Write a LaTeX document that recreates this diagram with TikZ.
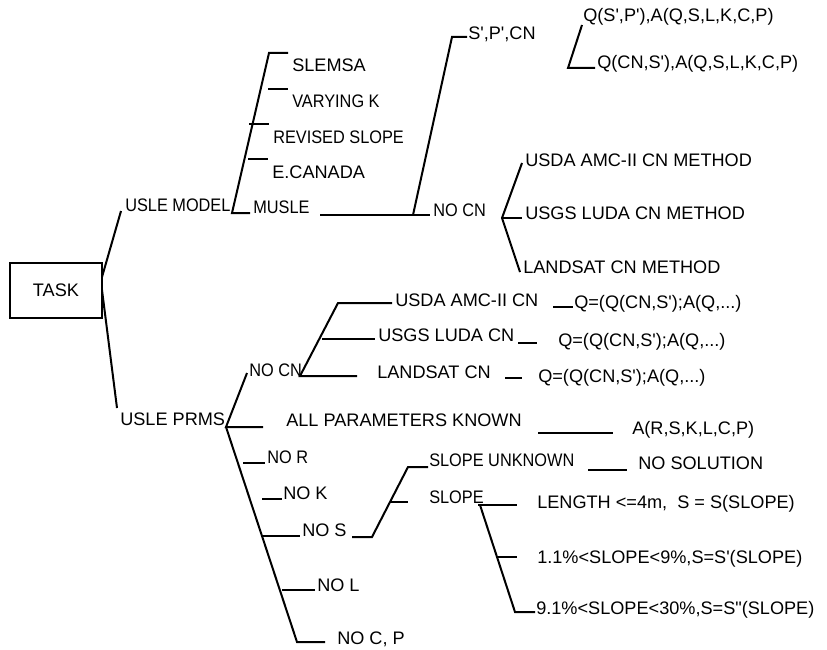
\documentclass[tikz,border=0pt]{standalone}
\usepackage{fontspec}
\setmainfont{Liberation Sans}
\newfontfamily\tightfont[FakeStretch=0.9]{Liberation Sans}
\begin{document}
\begin{tikzpicture}[x=0.75pt,y=-0.75pt,
  lbl/.style={anchor=base west, inner sep=0pt, font=\fontsize{13.6}{16}\selectfont},
  tlbl/.style={anchor=base west, inner sep=0pt, font=\fontsize{13.6}{16}\tightfont},
  br/.style={line width=1.5pt, line join=miter, line cap=butt},
  tk/.style={line width=1.1pt}]
\useasboundingbox (0,0) rectangle (827,649);

% root
\node[draw, line width=1.4pt, minimum width=69pt, minimum height=41pt, inner sep=0pt,
      font=\fontsize{13.6}{16}\selectfont] (task) at (56,290.5) {TASK};

% labels
\node[tlbl] (model) at (125,211.5) {USLE MODEL};
\node[lbl]  (prms)  at (120,425.5) {USLE PRMS};

\node[lbl]  (slemsa) at (292,71.5)  {SLEMSA};
\node[tlbl] (vary)   at (292,107.5) {VARYING K};
\node[tlbl] (revs)   at (273,143.5) {REVISED SLOPE};
\node[lbl]  (ecan)   at (272,178.5) {E.CANADA};
\node[tlbl] (musle)  at (253,213.5) {MUSLE};

\node[lbl]  (spcn)   at (468,39.5)  {S\textquotesingle,P\textquotesingle,CN};
\node[tlbl] (nocnA)  at (433,216.5) {NO CN};
\node[lbl]  (qsp)    at (583,21.5)  {Q(S\textquotesingle,P\textquotesingle),A(Q,S,L,K,C,P)};
\node[lbl]  (qcns)   at (597,68.5)  {Q(CN,S\textquotesingle),A(Q,S,L,K,C,P)};
\node[lbl]  (usdaM)  at (525,166.5) {USDA AMC-II CN METHOD};
\node[lbl]  (usgsM)  at (525,219.5) {USGS LUDA CN METHOD};
\node[lbl]  (landM)  at (523,273.5) {LANDSAT CN METHOD};

\node[tlbl] (nocnB)  at (249,376.5) {NO CN};
\node[lbl]  (usda)   at (395,306.5) {USDA AMC-II CN};
\node[lbl]  (usgs)   at (378,341.5) {USGS LUDA CN};
\node[lbl]  (land)   at (377,378.5) {LANDSAT CN};
\node[lbl]  (qa)     at (574,308.5) {Q=(Q(CN,S\textquotesingle);A(Q,...)};
\node[lbl]  (qb)     at (558,346.5) {Q=(Q(CN,S\textquotesingle);A(Q,...)};
\node[lbl]  (qc)     at (538,382.5) {Q=(Q(CN,S\textquotesingle);A(Q,...)};
\node[lbl]  (allp)   at (286,426.5) {ALL PARAMETERS KNOWN};
\node[lbl]  (arsk)   at (632,434.5) {A(R,S,K,L,C,P)};

\node[tlbl] (nor)    at (267,463.5) {NO R};
\node[lbl]  (nok)    at (283,499.5) {NO K};
\node[lbl]  (nos)    at (302,536.5) {NO S};
\node[lbl]  (nol)    at (317,591.5) {NO L};
\node[lbl]  (nocp)   at (337,644.5) {NO C, P};

\node[tlbl] (slu)    at (429,466.5) {SLOPE UNKNOWN};
\node[lbl]  (nosol)  at (638,469.5) {NO SOLUTION};
\node[tlbl] (slope)  at (429,503.5) {SLOPE};
\node[lbl]  (len)    at (537,508.5) {LENGTH <=4m,\ \ S = S(SLOPE)};
\node[lbl]  (s11)    at (537,563.5) {1.1\%<SLOPE<9\%,S=S\textquotesingle(SLOPE)};
\node[lbl]  (s91)    at (536,614.5) {9.1\%<SLOPE<30\%,S=S\textquotedbl(SLOPE)};

% coordinates
\coordinate (tA) at (102,277); \coordinate (tB) at (121,211);
\coordinate (tC) at (102,290); \coordinate (tD) at (117,408);

\coordinate (m0) at (232,213); \coordinate (m1) at (269,53);
\coordinate (m2) at (288,53);  \coordinate (m3) at (250,213);
\coordinate (v0) at (268,89);  \coordinate (v1) at (288,89);
\coordinate (r0) at (249,124); \coordinate (r1) at (269,124);
\coordinate (e0) at (248,159); \coordinate (e1) at (268,159);

\coordinate (u0) at (320,215); \coordinate (u1) at (430,215);
\coordinate (n0) at (413,215); \coordinate (n1) at (452,37); \coordinate (n2) at (467,37);

\coordinate (s0) at (582,25); \coordinate (s1) at (568,68); \coordinate (s2) at (595,68);

\coordinate (c0) at (522,163); \coordinate (c1) at (502,218);
\coordinate (c2) at (520,272); \coordinate (c3) at (522,218);

\coordinate (p0) at (226,427); \coordinate (p1) at (247,373); \coordinate (p2) at (263,427);
\coordinate (p3) at (297,642); \coordinate (p4) at (325,642);
\coordinate (nr0) at (243,463); \coordinate (nr1) at (265,463);
\coordinate (nk0) at (262,499); \coordinate (nk1) at (282,499);
\coordinate (ns0) at (263,536); \coordinate (ns1) at (300,536);
\coordinate (nl0) at (282,590); \coordinate (nl1) at (315,590);

\coordinate (q0) at (300,376); \coordinate (q1) at (338,303); \coordinate (q2) at (392,303);
\coordinate (q3) at (357,376); \coordinate (qm0) at (322,339); \coordinate (qm1) at (375,339);
\coordinate (d1a) at (553,307); \coordinate (d1b) at (573,307);
\coordinate (d2a) at (518,343); \coordinate (d2b) at (537,343);
\coordinate (d3a) at (505,378); \coordinate (d3b) at (522,378);
\coordinate (d4a) at (538,433); \coordinate (d4b) at (613,433);

\coordinate (o0) at (352,537); \coordinate (o1) at (372,537);
\coordinate (o2) at (408,467); \coordinate (o3) at (428,467);
\coordinate (om0) at (390,502); \coordinate (om1) at (408,502);
\coordinate (d5a) at (588,470); \coordinate (d5b) at (627,470);

\coordinate (g0) at (478,505); \coordinate (g1) at (517,505);
\coordinate (g2) at (480,505); \coordinate (g3) at (515,612); \coordinate (g4) at (535,612);
\coordinate (gm0) at (498,557); \coordinate (gm1) at (517,557);

% connectors
\draw[br] (tA) -- (tB);
\draw[br] (tC) -- (tD);

\draw[br] (m2) -- (m1) -- (m0) -- (m3);
\draw[tk] (v0) -- (v1);
\draw[tk] (r0) -- (r1);
\draw[tk] (e0) -- (e1);

\draw[tk] (u0) -- (u1);
\draw[br] (n0) -- (n1) -- (n2);

\draw[br] (s0) -- (s1) -- (s2);

\draw[br] (c0) -- (c1) -- (c2);
\draw[tk] (c1) -- (c3);

\draw[br] (p2) -- (p0) -- (p1);
\draw[br] (p0) -- (p3) -- (p4);
\draw[tk] (nr0) -- (nr1);
\draw[tk] (nk0) -- (nk1);
\draw[tk] (ns0) -- (ns1);
\draw[tk] (nl0) -- (nl1);

\draw[br] (q3) -- (q0) -- (q1) -- (q2);
\draw[tk] (qm0) -- (qm1);
\draw[tk] (d1a) -- (d1b);
\draw[tk] (d2a) -- (d2b);
\draw[tk] (d3a) -- (d3b);
\draw[tk] (d4a) -- (d4b);

\draw[br] (o0) -- (o1) -- (o2) -- (o3);
\draw[tk] (om0) -- (om1);
\draw[tk] (d5a) -- (d5b);

\draw[tk] (g0) -- (g1);
\draw[br] (g2) -- (g3) -- (g4);
\draw[tk] (gm0) -- (gm1);
\end{tikzpicture}
\end{document}
